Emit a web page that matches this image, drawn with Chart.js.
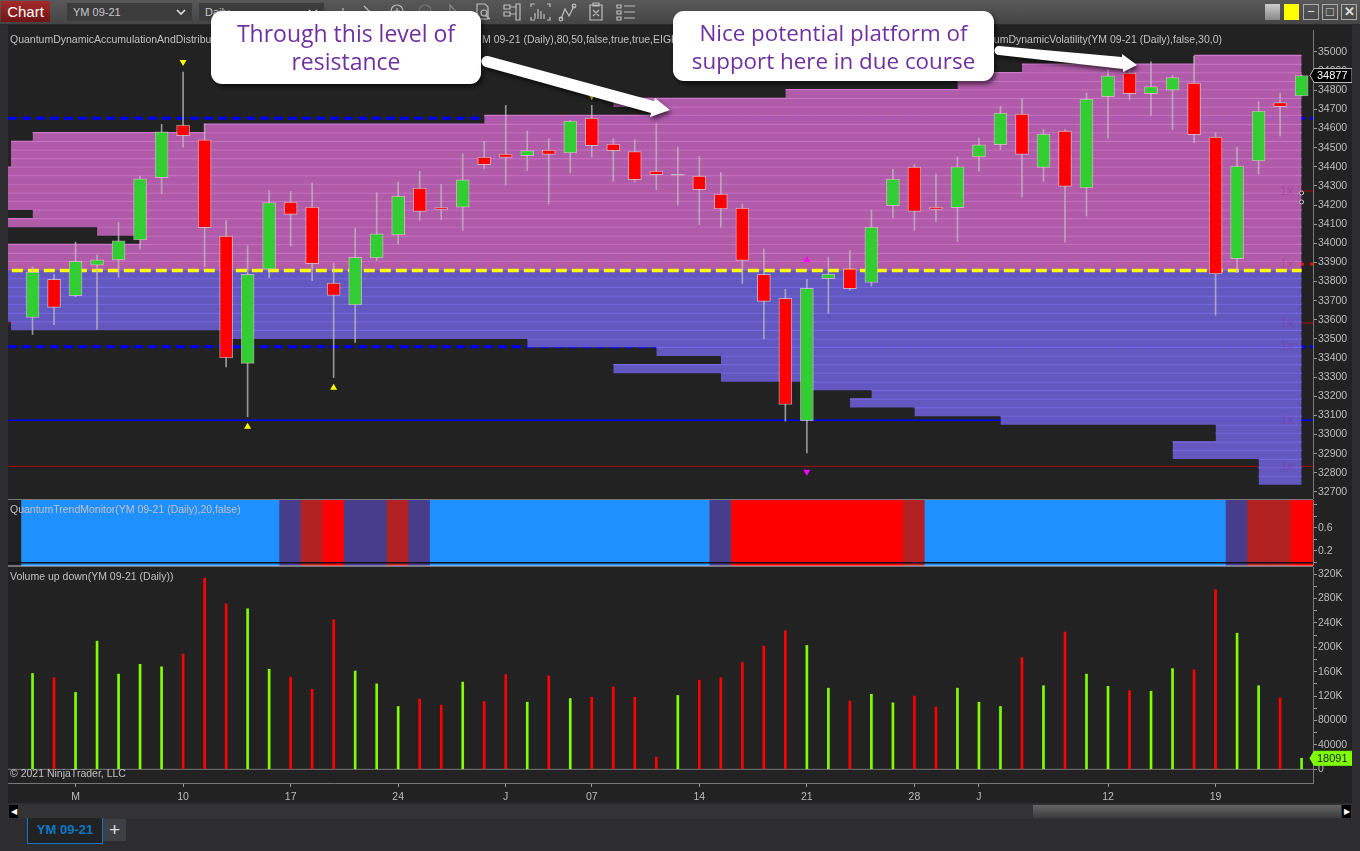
<!DOCTYPE html>
<html>
<head>
<meta charset="utf-8">
<title>YM 09-21 Daily</title>
<script src="https://cdn.jsdelivr.net/npm/chart.js@4"></script>
<style>
  html, body { margin: 0; padding: 0; width: 1360px; height: 851px; overflow: hidden; background: #2d2d30; font-family: "Liberation Sans", Arial, sans-serif; }
  canvas { position: absolute; left: 8px; }
  .abs { position: absolute; }
  #toolbar { left: 0; top: 0; width: 1360px; height: 24px; background: linear-gradient(#585858, #454545); border-bottom: 1px solid #2a2a2a; }
  #chartBtn { left: 1px; top: 1px; width: 49px; height: 21px; background: linear-gradient(#a52a2a, #701414); color: #fff; font-size: 15px; line-height: 21px; text-align: center; }
  .drop { top: 3px; height: 18px; background: #3c3c3c; color: #c8c8c8; font-size: 11px; line-height: 18px; padding-left: 6px; box-sizing: border-box; }
  .winBtn { top: 4px; width: 16px; height: 16px; box-sizing: border-box; border: 1px solid #aaa; color: #ddd; font-size: 13px; line-height: 13px; text-align: center; }
  #panel { left: 8px; top: 25px; width: 1344px; height: 778px; background: #222222; }
  .sep { height: 1px; background: #777; left: 8px; width: 1305px; }
  .paneTitle { color: #c0c0c0; font-size: 10.5px; white-space: nowrap; }
  .callout { background: #fff; border-radius: 11px; box-shadow: 2px 3px 4px rgba(0,0,0,0.6); color: #7030a0; font-family: "Open Sans", sans-serif; font-size: 23px; line-height: 28px; text-align: center; box-sizing: border-box; padding-top: 8px; }
  #scroll { left: 8px; top: 804px; width: 1344px; height: 15px; background: #333336; }
  #tab { left: 27px; top: 818px; width: 76px; height: 26px; box-sizing: border-box; background: #222; border: 1px solid #0a78c8; border-top: none; color: #0a78c8; font-size: 13px; font-weight: bold; line-height: 24px; text-align: center; }
  #plus { left: 103px; top: 819px; width: 23px; height: 22px; background: #3f3f46; color: #ddd; font-size: 19px; line-height: 21px; text-align: center; }
</style>
</head>
<body>
<div class="abs" id="toolbar"></div>
<div class="abs" id="chartBtn">Chart</div>
<div class="abs drop" style="left:67px;width:125px">YM 09-21</div>
<div class="abs drop" style="left:199px;width:125px">Daily</div>
<svg class="abs" style="left:0;top:0" width="1360" height="24" fill="none" stroke="#bdbdbd" stroke-width="1.2">
  <path d="M177 10l4 4 4-4M309 10l4 4 4-4" stroke="#ddd" stroke-width="1.6"/>
  <path d="M338 13v7M343 8v12M348 12v8"/>
  <path d="M364 6l8 8M366 16l5-5"/>
  <circle cx="397" cy="11" r="6"/><path d="M394 11h6M397 8v6"/>
  <circle cx="425" cy="11" r="6" stroke="#777"/><path d="M422 11h6" stroke="#777"/>
  <path d="M450 5l8 9h-8z" stroke="#888"/>
  <path d="M477 4h8l3 3v12h-11zM485 15l5 4"/><circle cx="484" cy="13" r="3"/>
  <path d="M504 5h6v4h-6zM504 12h6v4h-6zM510 7h6M510 14h6M516 4h4v16h-4z"/>
  <path d="M531 7v-3h4M547 4h3v3M531 17v3h4M547 20h3v-3M535 19v-6M538 19v-10M541 19v-8M544 19v-5"/>
  <path d="M561 19l4-10 4 7 5-10"/><circle cx="561" cy="19" r="1.8"/><circle cx="574" cy="6" r="1.8"/>
  <path d="M590 5h12v15h-12zM593 3h6v3h-6zM593 10l6 6M599 10l-6 6"/>
  <path d="M617 5h4v3h-4zM617 11h4v3h-4zM617 17h4v3h-4zM624 6h11M624 12h11M624 18h11"/>
</svg>
<div class="abs" style="left:1265px;top:4px;width:15px;height:16px;background:linear-gradient(#ccc,#888)"></div>
<div class="abs" style="left:1284px;top:4px;width:15px;height:16px;background:#ffff00"></div>
<div class="abs winBtn" style="left:1303px">&#8722;</div>
<div class="abs winBtn" style="left:1322px">&#9633;</div>
<div class="abs winBtn" style="left:1341px;font-weight:bold">&#10005;</div>

<div class="abs" id="panel"></div>
<canvas id="priceChart" style="top:30px" width="1344" height="469"></canvas>
<canvas id="trendChart" style="top:500px" width="1344" height="66"></canvas>
<canvas id="volumeChart" style="top:567px" width="1344" height="236"></canvas>
<div class="abs sep" style="top:499px"></div>
<div class="abs sep" style="top:566px"></div>
<div class="abs" style="left:8px;top:565px;width:1305px;height:1px;background:rgba(255,255,255,0.35)"></div>

<div class="abs paneTitle" style="left:10px;top:33px">QuantumDynamicAccumulationAndDistribution</div>
<div class="abs paneTitle" style="left:482px;top:33px">M 09-21 (Daily),80,50,false,true,true,EIGHT</div>
<div class="abs paneTitle" style="right:138px;top:33px">QuantumDynamicVolatility(YM 09-21 (Daily),false,30,0)</div>
<div class="abs paneTitle" style="left:10px;top:503px">QuantumTrendMonitor(YM 09-21 (Daily),20,false)</div>
<div class="abs paneTitle" style="left:10px;top:570px">Volume up down(YM 09-21 (Daily))</div>
<div class="abs paneTitle" style="left:10px;top:767px">&copy; 2021 NinjaTrader, LLC</div>

<div class="abs callout" style="left:211px;top:11px;width:270px;height:73px">Through this level of<br>resistance</div>
<div class="abs callout" style="left:673px;top:11px;width:321px;height:70px;font-size:22.4px">Nice potential platform of<br>support here in due course</div>
<svg class="abs" style="left:0;top:0;filter:drop-shadow(2px 3px 2px rgba(0,0,0,0.6))" width="1360" height="130" fill="#fff">
  <path d="M488 56l166 45 1-3 15 12-20 7 1-4-165-46a4.800 4.800 0 0 1 2-11z"/>
  <path d="M999 46l123 11 0-3 15 11-14 7 0-3-124-14a4.500 4.500 0 0 1 0-9z"/>
</svg>

<div class="abs" id="scroll"></div>
<div class="abs" style="left:9px;top:805px;width:9px;height:13px;background:#000;color:#fff;font-size:8px;line-height:13px;text-align:center">&#9664;</div>
<div class="abs" style="left:1033px;top:805px;width:308px;height:13px;background:linear-gradient(#666,#3a3a3a)"></div>
<div class="abs" style="left:1342px;top:805px;width:9px;height:13px;background:#000;color:#fff;font-size:8px;line-height:13px;text-align:center">&#9654;</div>
<div class="abs" id="tab">YM 09-21</div>
<div class="abs" id="plus">+</div>

<script>
// candles, one entry per trading day
const opens = [33612, 33811, 33726, 33886, 33913, 34018, 34343, 34618, 34541, 34037, 33372, 33865, 34215, 34189, 33792, 33678, 33924, 34044, 34288, 34186, 34189, 34451, 34466, 34458, 34487, 34473, 34655, 34519, 34480, 34377, 34356, 34351, 34257, 34184, 33837, 33712, 33073, 33815, 33867, 33795, 34196, 34398, 34189, 34186, 34452, 34515, 34676, 34397, 34587, 34290, 34766, 34890, 34782, 34801, 34838, 34555, 33919, 34430, 34735, 34770];
const highs = [33877, 33837, 34006, 33940, 34110, 34351, 34622, 34895, 34625, 34119, 33988, 34276, 34271, 34315, 33895, 34079, 34264, 34320, 34376, 34308, 34468, 34533, 34721, 34587, 34547, 34642, 34721, 34547, 34541, 34625, 34503, 34454, 34369, 34206, 33971, 33759, 33811, 33927, 33962, 34175, 34386, 34412, 34363, 34451, 34550, 34716, 34756, 34595, 34594, 34785, 34908, 34930, 34948, 34878, 34979, 34578, 34503, 34740, 34787, 34880];
const lows = [33523, 33574, 33720, 33549, 33822, 33971, 34259, 34503, 33877, 33354, 33093, 33820, 33985, 33804, 33298, 33481, 33910, 33997, 34119, 34123, 34067, 34390, 34304, 34381, 34206, 34367, 34451, 34323, 34320, 34280, 34200, 34097, 34083, 33790, 33501, 33070, 32904, 33633, 33755, 33776, 34133, 34067, 34114, 34009, 34377, 34491, 34241, 34323, 34006, 34142, 34550, 34750, 34670, 34595, 34526, 33624, 33846, 34363, 34560, 34770];
const closes = [33849, 33665, 33905, 33913, 34013, 34337, 34583, 34562, 34081, 33401, 33837, 34213, 34151, 33893, 33727, 33926, 34050, 34247, 34166, 34177, 34332, 34411, 34449, 34484, 34465, 34639, 34510, 34484, 34332, 34358, 34361, 34280, 34180, 33910, 33696, 33157, 33764, 33839, 33762, 34084, 34336, 34166, 34177, 34400, 34515, 34681, 34465, 34571, 34297, 34754, 34876, 34782, 34819, 34866, 34568, 33840, 34404, 34691, 34714, 34877];

// volume pane, the last value is the one printed in the green tag
const volumes = [157000, 150000, 126000, 210000, 156000, 172000, 168000, 189000, 313000, 271000, 263000, 164000, 151000, 131000, 245000, 161000, 140000, 103000, 115000, 105000, 143000, 111000, 155000, 110000, 153000, 116000, 118000, 135000, 118000, 20000, 121000, 146000, 150000, 175000, 202000, 227000, 203000, 133000, 112000, 123000, 109000, 120000, 102000, 133000, 110000, 103000, 183000, 137000, 225000, 156000, 136000, 129000, 128000, 165000, 163000, 294000, 223000, 137000, 117000, 18091];

// trend monitor state per day: 0 up, 1 weak, 2 fading, 3 down
const trendStates = [0, 0, 0, 0, 0, 0, 0, 0, 0, 0, 0, 0, 1, 2, 3, 1, 1, 2, 1, 0, 0, 0, 0, 0, 0, 0, 0, 0, 0, 0, 0, 0, 1, 3, 3, 3, 3, 3, 3, 3, 3, 2, 0, 0, 0, 0, 0, 0, 0, 0, 0, 0, 0, 0, 0, 0, 1, 2, 2, 3];

// volume at price bands: upper price of each band, the day it starts on, and the bottom of the last band
const profileTops = [34982, 34937, 34892, 34847, 34803, 34758, 34713, 34668, 34623, 34578, 34533, 34488, 34443, 34398, 34354, 34309, 34264, 34219, 34174, 34129, 34084, 34039, 33994, 33949, 33905, 33860, 33815, 33770, 33725, 33680, 33635, 33590, 33545, 33500, 33456, 33411, 33366, 33321, 33276, 33231, 33186, 33141, 33096, 33051, 33007, 32962, 32917, 32872, 32827, 32782];
const profileStarts = [54, 46, 43, 43, 35, 27, 29, 21, 8, 0, -1, -1, -1, -2, -2, -2, -2, -2, 0, -2, 3, 5, -2, -2, -2, -2, -2, -2, -2, -2, -2, -1, 9, 23, 29, 32, 27, 32, 36, 39, 38, 41, 45, 55, 55, 53, 53, 57, 57, 57];
const profileBottom = 32737;
const profileEnd = 59;

// horizontal levels
const pocLevel = 33858;
const pocStart = -0.96;
const blueLevels = [34653, 33459];
const thinBlueLevels = [33075];
const redLevels = [33892];
const thinRedLevels = [32834, 34273, 33583];
const fadedLabelLevels = [34273, 33892, 33583, 33459, 33075, 32834];

// markers printed above and below the candles
const yellowUpDays = [10, 14];
const yellowUpPrices = [33041, 33245];
const yellowDownDays = [7, 26];
const yellowDownPrices = [34948, 34770];
const magentaUpDays = [36];
const magentaUpPrices = [33913];
const magentaDownDays = [36];
const magentaDownPrices = [32806];
const circleDays = [59, 59];
const circlePrices = [34263, 34216];

// axes
const xTickValues = [2, 7, 12, 17, 22, 26, 31, 36, 41, 44, 50, 55];
const xTickLabels = ["M", "10", "17", "24", "J", "07", "14", "21", "28", "J", "12", "19"];
const priceTicks = [35000, 34900, 34800, 34700, 34600, 34500, 34400, 34300, 34200, 34100, 34000, 33900, 33800, 33700, 33600, 33500, 33400, 33300, 33200, 33100, 33000, 32900, 32800, 32700];
const trendTicks = [1, 0.8, 0.6, 0.4, 0.2, 0];
const trendTickLabels = ["", "", "0.6", "", "0.2", ""];
const volumeTicks = [320000, 300000, 280000, 260000, 240000, 220000, 200000, 180000, 160000, 140000, 120000, 100000, 80000, 60000, 40000, 20000, 0];
const volumeTickLabels = ["320K", "", "280K", "", "240K", "", "200K", "", "160K", "", "120K", "", "80000", "", "40000", "", "0"];

const RED = "#ff0000";
const GREEN = "#32cd32";
const LIME = "#7fff00";
const TREND_COLORS = ["#1e90ff", "#483d8b", "#b22222", "#ff0000"];
const TICK_FONT = { family: "'Liberation Sans', Arial, sans-serif", size: 10.5 };
const X_MIN = -1.14;
const X_MAX = 59.53;

function xAxis(show) {
  return {
    type: "linear",
    display: show,
    offset: false,
    min: X_MIN,
    max: X_MAX,
    grid: { offset: false, drawOnChartArea: false, tickLength: 4, color: "#999" },
    border: { color: "#777" },
    afterBuildTicks: (scale) => {
      scale.ticks = xTickValues.map((value) => ({ value }));
    },
    ticks: {
      autoSkip: false,
      maxRotation: 0,
      color: "#bdbdbd",
      font: TICK_FONT,
      padding: 4,
      callback: (value) => xTickLabels[xTickValues.indexOf(value)],
    },
    afterFit: (scale) => {
      if (show) scale.height = 20;
      scale.paddingLeft = 0;
      scale.paddingRight = 0;
    },
  };
}

function yAxis(min, max, values, labels) {
  return {
    position: "right",
    min,
    max,
    grid: { drawOnChartArea: false, tickLength: 4, color: "#999" },
    border: { color: "#777" },
    afterBuildTicks: (scale) => {
      scale.ticks = values.map((value) => ({ value }));
    },
    ticks: {
      autoSkip: false,
      color: "#bdbdbd",
      font: TICK_FONT,
      padding: 1,
      callback: (value) => (labels ? labels[values.indexOf(value)] : String(value)),
    },
    afterFit: (scale) => {
      scale.width = 39;
      scale.paddingTop = 0;
      scale.paddingBottom = 0;
    },
  };
}

function levelLine(price, color, width, dash, order, from = X_MIN, to = X_MAX) {
  return {
    type: "line",
    data: [{ x: from, y: price }, { x: to, y: price }],
    borderColor: color,
    borderWidth: width,
    borderDash: dash,
    pointRadius: 0,
    order,
  };
}

function markerSet(days, prices, color, rotation) {
  return {
    type: "line",
    data: days.map((day, i) => ({ x: day, y: prices[i] })),
    showLine: false,
    pointStyle: "triangle",
    pointRadius: 4,
    pointRotation: rotation,
    pointBackgroundColor: color,
    pointBorderColor: color,
    pointBorderWidth: 0,
    order: 0,
  };
}

function profileBands() {
  return profileTops.map((top, k) => {
    const bottom = k + 1 < profileTops.length ? profileTops[k + 1] : profileBottom;
    const isUpper = bottom >= pocLevel;
    return {
      type: "line",
      data: [{ x: profileStarts[k], y: top }, { x: profileEnd, y: top }],
      fill: { value: bottom },
      backgroundColor: isUpper ? "rgba(186, 96, 178, 0.93)" : "rgba(104, 92, 204, 0.93)",
      borderColor: isUpper ? "#d077cc" : "#7d6de8",
      borderWidth: 1.25,
      pointRadius: 0,
      order: 4,
    };
  });
}

function candleColor(i) {
  if (Math.abs(closes[i] - opens[i]) <= 6) return "#c8c8c8";
  return closes[i] > opens[i] ? GREEN : RED;
}

// tag on the right axis holding the last value of a pane
function lastValueTag(value, fill, textColor, outline) {
  return {
    id: "lastValueTag",
    afterDraw(chart) {
      const ctx = chart.ctx;
      const y = chart.scales.y.getPixelForValue(value);
      const left = chart.chartArea.right - 3;
      ctx.save();
      ctx.beginPath();
      ctx.moveTo(left, y);
      ctx.lineTo(left + 4, y - 7);
      ctx.lineTo(chart.width, y - 7);
      ctx.lineTo(chart.width, y + 7);
      ctx.lineTo(left + 4, y + 7);
      ctx.closePath();
      ctx.fillStyle = fill;
      ctx.fill();
      ctx.strokeStyle = outline;
      ctx.stroke();
      ctx.fillStyle = textColor;
      ctx.font = "11px 'Liberation Sans', Arial, sans-serif";
      ctx.textBaseline = "middle";
      ctx.fillText(String(value), left + 7, y + 0.5);
      ctx.restore();
    },
  };
}

const fadedLabels = {
  id: "fadedLabels",
  afterDatasetsDraw(chart) {
    const ctx = chart.ctx;
    ctx.save();
    ctx.fillStyle = "rgba(150, 40, 140, 0.3)";
    ctx.font = "13px 'Liberation Sans', Arial, sans-serif";
    ctx.textAlign = "center";
    ctx.textBaseline = "middle";
    fadedLabelLevels.forEach((price) => {
      ctx.fillText("1x", chart.scales.x.getPixelForValue(58.3), chart.scales.y.getPixelForValue(price));
    });
    ctx.restore();
  },
};

function commonOptions(scales) {
  return {
    responsive: false,
    animation: false,
    layout: { padding: 0, autoPadding: false },
    plugins: { legend: { display: false }, tooltip: { enabled: false } },
    scales,
  };
}

function createPriceChart() {
  const days = opens.map((open, i) => i);
  const datasets = [
    markerSet(yellowUpDays, yellowUpPrices, "#ffff00", 0),
    markerSet(yellowDownDays, yellowDownPrices, "#ffff00", 180),
    markerSet(magentaUpDays, magentaUpPrices, "#ff00ff", 0),
    markerSet(magentaDownDays, magentaDownPrices, "#ff00ff", 180),
    {
      type: "line",
      data: circleDays.map((day, i) => ({ x: day, y: circlePrices[i] })),
      showLine: false,
      pointRadius: 2,
      pointBackgroundColor: "#222",
      pointBorderColor: "#ccc",
      pointBorderWidth: 1,
      order: 0,
    },
    {
      data: days.map((i) => ({ x: i, y: [opens[i], closes[i]] })),
      backgroundColor: days.map(candleColor),
      borderColor: "rgba(225, 205, 205, 0.7)",
      borderWidth: 1,
      borderSkipped: false,
      barThickness: 13,
      grouped: false,
      order: 1,
    },
    {
      data: days.map((i) => ({ x: i, y: [lows[i], highs[i]] })),
      backgroundColor: "rgba(190, 190, 190, 0.75)",
      barThickness: 1,
      grouped: false,
      order: 2,
    },
    levelLine(pocLevel, "#ffff00", 3.5, [11, 5], 3, pocStart, profileEnd),
    ...profileBands(),
  ];
  blueLevels.forEach((price) => datasets.push(levelLine(price, "#0000ff", 3, [9, 5], 5)));
  thinBlueLevels.forEach((price) => datasets.push(levelLine(price, "#0000ff", 1.5, [], 5)));
  redLevels.forEach((price) => datasets.push(levelLine(price, "#ff0000", 3, [8, 6], 5)));
  thinRedLevels.forEach((price) => datasets.push(levelLine(price, "#a01010", 1, [], 5)));

  new Chart(document.getElementById("priceChart"), {
    type: "bar",
    data: { datasets },
    options: commonOptions({
      x: xAxis(false),
      y: yAxis(32663, 35115, priceTicks),
    }),
    plugins: [fadedLabels, lastValueTag(closes[closes.length - 1], "#000", "#fff", "#bbb")],
  });
}

function createTrendChart() {
  new Chart(document.getElementById("trendChart"), {
    type: "bar",
    data: {
      datasets: [
        levelLine(0, "#101018", 1.5, [], 0),
        {
          data: trendStates.map((state, i) => ({ x: i, y: [-0.1, 1.1] })),
          backgroundColor: trendStates.map((state) => TREND_COLORS[state]),
          barThickness: 22,
          grouped: false,
          order: 1,
        },
      ],
    },
    options: commonOptions({
      x: xAxis(false),
      y: yAxis(-0.0575, 1.075, trendTicks, trendTickLabels),
    }),
  });
}

function createVolumeChart() {
  new Chart(document.getElementById("volumeChart"), {
    type: "bar",
    data: {
      datasets: [
        levelLine(0, "#777", 1, [], 1),
        {
          data: volumes.map((volume, i) => ({ x: i, y: volume })),
          backgroundColor: volumes.map((volume, i) => (closes[i] > opens[i] ? LIME : RED)),
          barThickness: 2,
          grouped: false,
          order: 0,
        },
      ],
    },
    options: commonOptions({
      x: xAxis(true),
      y: yAxis(-22400, 331500, volumeTicks, volumeTickLabels),
    }),
    plugins: [lastValueTag(volumes[volumes.length - 1], LIME, "#222", LIME)],
  });
}

createPriceChart();
createTrendChart();
createVolumeChart();
</script>
</body>
</html>
